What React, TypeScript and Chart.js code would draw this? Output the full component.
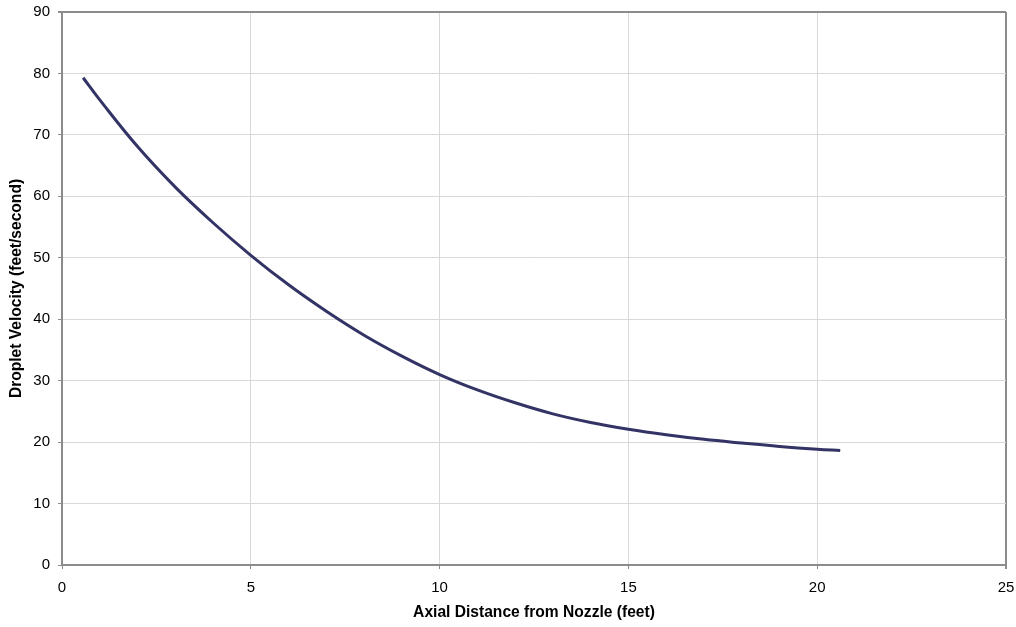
import React, { useEffect, useRef } from "react";
import { Chart, registerables } from "chart.js";

Chart.register(...registerables);

const distanceFt = [0.56, 1, 2, 3, 4, 5, 6, 7, 8, 9, 10, 11, 12, 13, 14, 15, 16, 17, 18, 19, 20, 20.61];
const velocityFps = [79.3, 75.7, 68.1, 61.5, 55.7, 50.4, 45.6, 41.3, 37.4, 34.0, 31.0, 28.5, 26.4, 24.6, 23.2, 22.1, 21.2, 20.45, 19.85, 19.3, 18.85, 18.65];
const xTickValues = [0, 5, 10, 15, 20, 25];
const yTickValues = [0, 10, 20, 30, 40, 50, 60, 70, 80, 90];
const xTitle = "Axial Distance from Nozzle (feet)";
const yTitle = "Droplet Velocity (feet/second)";

export default function App() {
  const ref = useRef<HTMLCanvasElement | null>(null);
  useEffect(() => {
    if (!ref.current) return;
    const font = "'Liberation Sans', Arial, sans-serif";
    const chart = new Chart(ref.current, {
      type: "scatter",
      data: {
        datasets: [
          {
            data: distanceFt.map((x, i) => ({ x, y: velocityFps[i] })),
            showLine: true,
            borderColor: "#333366",
            borderWidth: 3,
            pointRadius: 0,
            tension: 0.4,
            fill: false,
          },
        ],
      },
      options: {
        animation: false,
        responsive: false,
        maintainAspectRatio: false,
        layout: { padding: { left: 0, right: 10, top: 12, bottom: 0 } },
        plugins: { legend: { display: false }, tooltip: { enabled: false } },
        scales: {
          x: {
            type: "linear",
            min: 0,
            max: 25,
            afterBuildTicks: (s: any) => {
              s.ticks = xTickValues.map((v) => ({ value: v }));
            },
            afterFit: (s: any) => {
              s.height = 62;
              s.paddingLeft = 0;
              s.paddingRight = 0;
            },
            ticks: { color: "#000", font: { family: font, size: 15 }, padding: 10, maxRotation: 0 },
            grid: {
              color: (c: any) => (c.tick && c.tick.value === 25 ? "#8c8c8c" : "#d9d9d9"),
              lineWidth: (c: any) => (c.tick && c.tick.value === 25 ? 2 : 1),
              tickLength: 4,
              tickColor: "#8c8c8c",
            },
            border: { color: "#8c8c8c", width: 2 },
            title: {
              display: true,
              text: xTitle,
              color: "#000",
              font: { family: font, size: 15.6, weight: "bold" },
              padding: { top: 4, bottom: 5 },
            },
          },
          y: {
            type: "linear",
            min: 0,
            max: 90,
            afterBuildTicks: (s: any) => {
              s.ticks = yTickValues.map((v) => ({ value: v }));
            },
            afterFit: (s: any) => {
              s.width = 62;
              s.paddingTop = 0;
              s.paddingBottom = 0;
            },
            ticks: { color: "#000", font: { family: font, size: 15 }, padding: 8 },
            grid: {
              color: (c: any) => (c.tick && c.tick.value === 90 ? "#8c8c8c" : "#d9d9d9"),
              lineWidth: (c: any) => (c.tick && c.tick.value === 90 ? 2 : 1),
              tickLength: 4,
              tickColor: "#8c8c8c",
            },
            border: { color: "#8c8c8c", width: 2 },
            title: {
              display: true,
              text: yTitle,
              color: "#000",
              font: { family: font, size: 15.6, weight: "bold" },
              padding: { top: 7, bottom: 4 },
            },
          },
        },
      },
    });
    return () => chart.destroy();
  }, []);
  return (
    <div style={{ position: "fixed", left: 0, top: 0, width: 1016, height: 627, background: "#fff" }}>
      <canvas ref={ref} width={1016} height={627} style={{ display: "block" }} />
    </div>
  );
}
